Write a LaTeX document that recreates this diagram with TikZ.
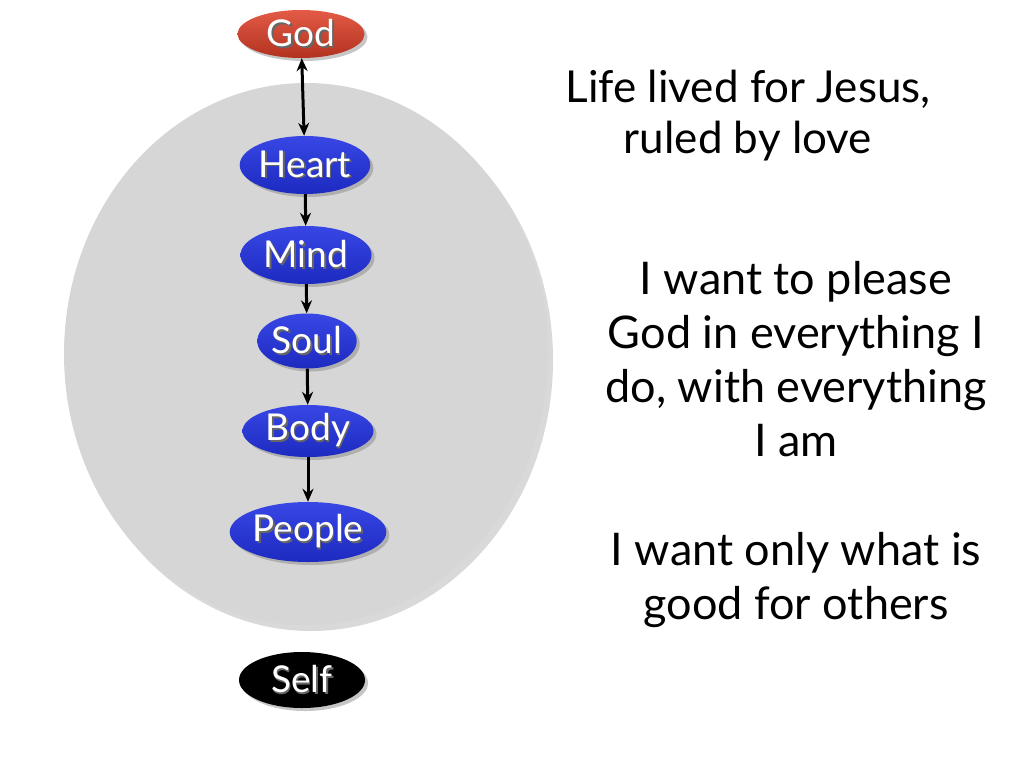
\documentclass[tikz,border=0pt]{standalone}
\usepackage{fontspec}
\setmainfont{Lato}
\usetikzlibrary{shapes.geometric,shadows,arrows.meta}

\definecolor{godred}{RGB}{222,62,38}
\definecolor{partblue}{RGB}{34,50,226}
\definecolor{lifegray}{RGB}{214,214,214}

\newcommand{\shadowed}[1]{\leavevmode\rlap{\kern1.5pt\raisebox{-1.5pt}{\textcolor{black!60}{#1}}}#1}

\tikzset{node distance=90pt, auto, >={Stealth[length=13pt,width=11pt]},
  part/.style={ellipse, inner sep=0pt, minimum height=58pt, text=white,
    top color=partblue!90!white, bottom color=partblue!85!black, draw=none,
    font=\fontsize{37}{40}\selectfont,
    drop shadow={shadow xshift=3pt, shadow yshift=-3pt, opacity=.45}},
  saying/.style={align=center, font=\fontsize{45}{54}\selectfont},
  link/.style={->, line width=3pt}}

\begin{document}
\begin{tikzpicture}[x=1pt, y=-1pt]
  \useasboundingbox (0,0) rectangle (1024,768);
  \node (life) [ellipse, fill=lifegray, minimum width=484pt, minimum height=542pt,
    drop shadow={shadow xshift=5pt, shadow yshift=-6pt, opacity=.3}] at (306,354) {};

  \node (God) [part, minimum width=127pt, minimum height=48pt,
    top color=godred!85!white, bottom color=godred!80!black] at (301,34) {\shadowed{God}};
  \node (Heart) [part, minimum width=126pt, below of=God, node distance=131pt, xshift=4pt] {\shadowed{Heart}};
  \node (Mind) [part, minimum width=131pt, below of=Heart, xshift=1pt] {\shadowed{Mind}};
  \node (Soul) [part, minimum width=96pt, minimum height=55pt, below of=Mind, node distance=86pt, xshift=1pt] {\shadowed{Soul}};
  \node (Body) [part, minimum width=131pt, minimum height=52pt, below of=Soul, xshift=1pt] {\shadowed{Body}};
  \node (People) [part, minimum width=139pt, minimum height=60pt, below of=Body, node distance=101pt] {\shadowed{People}};
  \node (Self) [part, minimum width=126pt, minimum height=56pt, top color=black, bottom color=black,
    below of=People, node distance=148pt, xshift=-6pt] {\shadowed{Self}};

  \draw[link, <->] (God) -- (Heart);
  \draw[link] (Heart) -- (Mind);
  \draw[link] (Mind) -- (Soul);
  \draw[link] (Soul) -- (Body);
  \draw[link] (Body) -- (People);

  \node (jesus) [saying, font=\fontsize{44}{51}\selectfont] at (748,116) {Life lived for Jesus,\\ruled by love};
  \node (please) [saying] at (796,359) {I want to please\\God in everything I\\do, with everything\\I am};
  \node (others) [saying] at (796,580) {I want only what is\\good for others};
\end{tikzpicture}
\end{document}
